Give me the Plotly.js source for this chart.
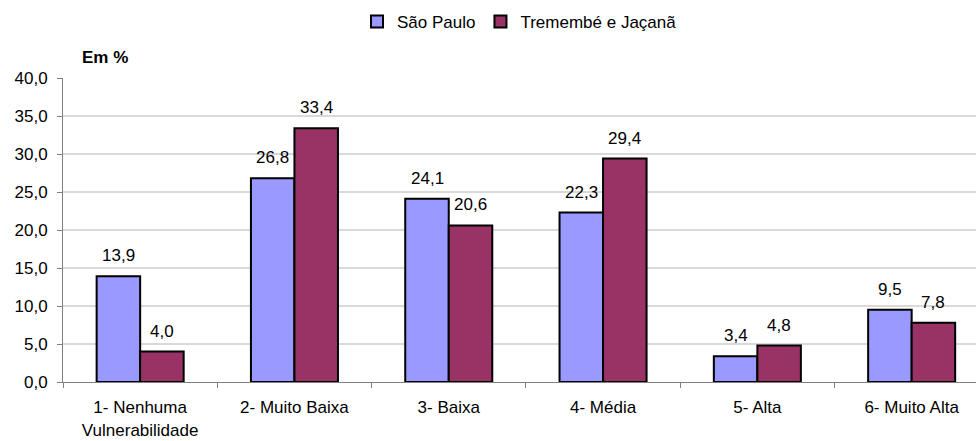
<!DOCTYPE html>
<html>
<head>
<meta charset="utf-8">
<script src="https://cdn.plot.ly/plotly-3.0.1.min.js"></script>
<style>html,body{margin:0;padding:0;background:#fff;}#chart{width:976px;height:441px;}</style>
</head>
<body>
<div id="chart"></div>
<script>
var categories = ["1- Nenhuma<br>Vulnerabilidade", "2- Muito Baixa", "3- Baixa", "4- Média", "5- Alta", "6- Muito Alta"];
var saoPaulo = [13.9, 26.8, 24.1, 22.3, 3.4, 9.5];
var tremembe = [4.0, 33.4, 20.6, 29.4, 4.8, 7.8];
var seriesNames = ["São Paulo", "Tremembé e Jaçanã"];
var yTicks = [0, 5, 10, 15, 20, 25, 30, 35, 40];

var font = {family: "Liberation Sans, Arial, sans-serif", size: 17, color: "#000"};
var barWidthFrac = 0.282;

function bar(name, values, color) {
  return {
    type: "bar", name: name, x: categories, y: values,
    marker: {color: color, line: {color: "#000", width: 2}},
    hoverinfo: "skip"
  };
}

var data = [bar(seriesNames[0], saoPaulo, "#9999FF"), bar(seriesNames[1], tremembe, "#993366")];

function fmt(v) { return v.toFixed(1).replace(".", ","); }

var annotations = [{
  text: "<b>Em %</b>", xref: "paper", yref: "paper", x: 0.046, y: 1.069,
  xanchor: "center", yanchor: "middle", showarrow: false, font: font
}];
[saoPaulo, tremembe].forEach(function (vals, s) {
  vals.forEach(function (v, i) {
    annotations.push({
      x: i + (s === 0 ? -barWidthFrac / 2 : barWidthFrac / 2), y: v,
      xref: "x", yref: "y", text: fmt(v), showarrow: false,
      xanchor: "center", yanchor: "bottom", yshift: 9, font: font
    });
  });
});

var layout = {
  width: 976, height: 441,
  margin: {l: 63, r: 0, t: 78, b: 59},
  paper_bgcolor: "#fff", plot_bgcolor: "#fff",
  separators: ",.",
  font: font,
  barmode: "group", bargap: 1 - 2 * barWidthFrac, bargroupgap: 0,
  showlegend: true,
  legend: {orientation: "h", x: 0.5, xanchor: "center", y: 1.184, yanchor: "middle",
           font: font, itemwidth: 30, traceorder: "normal"},
  xaxis: {
    type: "category", range: [-0.5, 5.417], tickson: "boundaries",
    ticks: "outside", ticklen: 5, tickcolor: "#808080",
    showline: true, linecolor: "#808080", linewidth: 1,
    showgrid: false, tickfont: font, ticklabelstandoff: 10, fixedrange: true
  },
  yaxis: {
    range: [0, 40], tickvals: yTicks, tickformat: ".1f",
    ticks: "outside", ticklen: 5, tickcolor: "#808080",
    showline: true, linecolor: "#808080", linewidth: 1,
    showgrid: true, gridcolor: "#d9d9d9", gridwidth: 1.5,
    zeroline: false, tickfont: font, ticklabelstandoff: 6, fixedrange: true
  },
  annotations: annotations
};

Plotly.newPlot("chart", data, layout, {displayModeBar: false, staticPlot: true});
</script>
</body>
</html>
